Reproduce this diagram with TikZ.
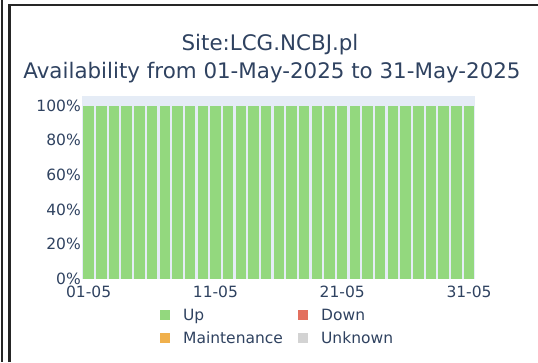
\documentclass[tikz,border=0pt]{standalone}
\usepackage{fontspec}
\setmainfont{DejaVu Sans}
\usepackage{tikz}
\usetikzlibrary{positioning}

\definecolor{titlecol}{HTML}{2F4260}
\definecolor{bgcol}{HTML}{E5ECF6}
\definecolor{upcol}{HTML}{93D87E}
\definecolor{downcol}{HTML}{E3705F}
\definecolor{maintcol}{HTML}{F0B04C}
\definecolor{unkcol}{HTML}{D3D3D3}

\tikzset{
  titletext/.style={text=titlecol, font=\fontsize{21.4}{25}\selectfont, inner sep=0pt},
  ticktext/.style={text=titlecol, font=\fontsize{15.5}{18}\selectfont, inner sep=0pt,
    text height=11.3pt, text depth=0pt},
  legbox/.style={fill=#1, minimum size=9.5pt, inner sep=0pt},
  frameline/.style={line width=2.5pt, black!85}
}

\begin{document}
\begin{tikzpicture}[x=1pt, y=-1pt]
\useasboundingbox (0,0) rectangle (538,362);

\draw[frameline] (2,0) -- (2,362);
\draw[frameline] (9.5,362) -- (9.5,5) -- (538,5);

\node[titletext] (site) at (270,45) {Site:LCG.NCBJ.pl};
\node[titletext] (period) at (272,73) {Availability from 01-May-2025 to 31-May-2025};

\fill[bgcol] (82.3,96) rectangle (475.3,279);
\foreach \d in {1,...,31}{
    \fill[upcol] ({82.3+(\d-0.5)*12.68-5.2},105.5) rectangle ({82.3+(\d-0.5)*12.68+5.2},279);
};

\foreach \p in {0,20,...,100}{
    \node[ticktext, anchor=east] (y\p) at (81,{279-1.735*\p}) {\p\%};
};

\foreach \d/\lab in {1/01, 11/11, 21/21, 31/31}{
    \node[ticktext] (x\d) at ({82.3+(\d-0.5)*12.68},292) {\lab-05};
};

\node[legbox=upcol] (upbox) at (165,315) {};
\node[ticktext, right=13pt of upbox] (uplab) {Up};
\node[legbox=downcol] (downbox) at (303,315) {};
\node[ticktext, right=13pt of downbox] (downlab) {Down};
\node[legbox=maintcol] (maintbox) at (165,338) {};
\node[ticktext, right=13pt of maintbox] (maintlab) {Maintenance};
\node[legbox=unkcol] (unkbox) at (303,338) {};
\node[ticktext, right=13pt of unkbox] (unklab) {Unknown};

\end{tikzpicture}
\end{document}
